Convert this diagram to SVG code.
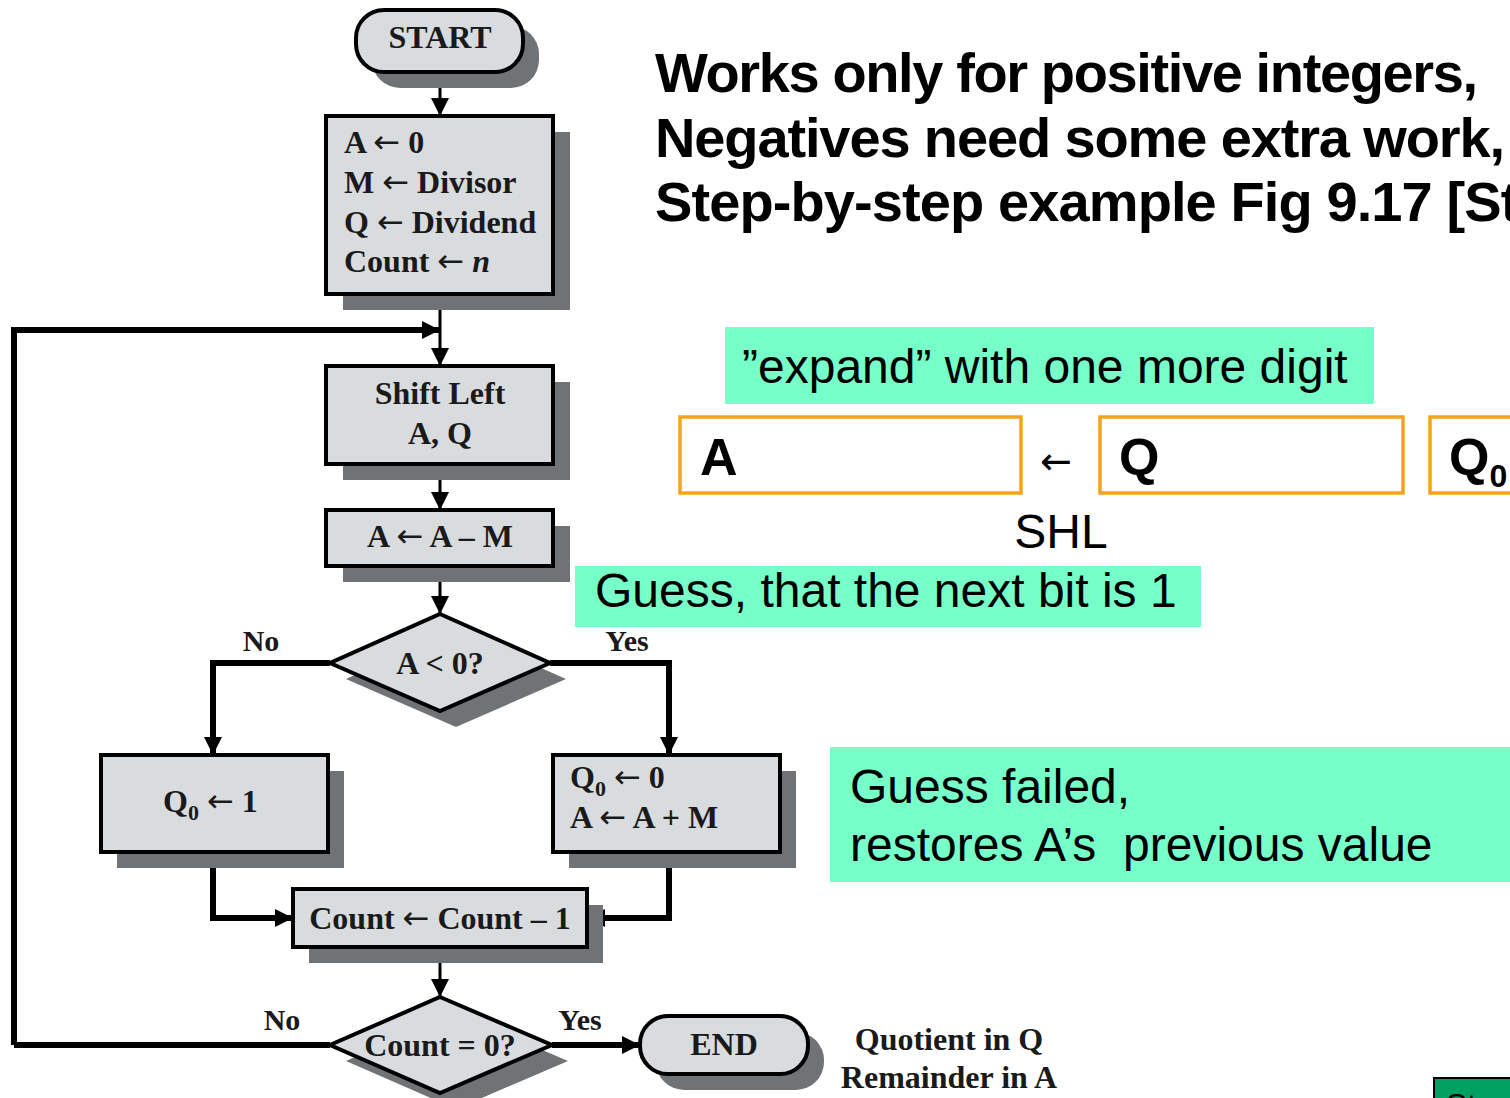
<svg xmlns="http://www.w3.org/2000/svg" width="1510" height="1098" viewBox="0 0 1510 1098">
  <style>
    .box { fill: #d9dcdf; stroke: #000; stroke-width: 4; }
    .shadow { fill: #707376; }
    .fc { font-family: "Liberation Serif", "Times New Roman", serif; font-weight: bold; font-size: 32px; fill: #1a1a1a; }
    .arr { font-family: "DejaVu Sans", sans-serif; font-weight: normal; }
    .lbl { font-family: "Liberation Serif", "Times New Roman", serif; font-weight: bold; font-size: 30px; fill: #1a1a1a; }
    .head { font-family: "Liberation Sans", Arial, sans-serif; font-weight: bold; font-size: 56px; fill: #000; }
    .note { font-family: "Liberation Sans", Arial, sans-serif; font-size: 48px; fill: #000; }
    .hl { fill: #76ffc8; }
    .reg { fill: #fff; stroke: #f7a21b; stroke-width: 3.5; }
    .regt { font-family: "Liberation Sans", Arial, sans-serif; font-weight: bold; font-size: 52px; fill: #000; }
    .thin { fill: none; stroke: #000; stroke-width: 3; }
    .thick { fill: none; stroke: #000; stroke-width: 6; }
  </style>
  <defs>
    <marker id="ah" viewBox="0 0 10 10" refX="10" refY="5" markerWidth="18" markerHeight="18" markerUnits="userSpaceOnUse" orient="auto">
      <path d="M0,0 L10,5 L0,10 z" fill="#000"/>
    </marker>
  </defs>

  <rect width="1510" height="1098" fill="#fff"/>

  <!-- connectors -->
  <g id="connectors">
    <path class="thin" d="M440,72 V116" marker-end="url(#ah)"/>
    <path class="thin" d="M440,294 V366" marker-end="url(#ah)"/>
    <path class="thick" d="M14,1045 V330 H440" marker-end="url(#ah)"/>
    <path class="thin" d="M440,464 V510" marker-end="url(#ah)"/>
    <path class="thin" d="M440,566 V614" marker-end="url(#ah)"/>
    <path class="thick" d="M330,663 H213 V755" marker-end="url(#ah)"/>
    <path class="thick" d="M550,663 H669 V755" marker-end="url(#ah)"/>
    <path class="thick" d="M213,852 V918 H293" marker-end="url(#ah)"/>
    <path class="thick" d="M669,852 V918 H587" marker-end="url(#ah)"/>
    <path class="thin" d="M440,947 V997" marker-end="url(#ah)"/>
    <path class="thick" d="M330,1045 H14"/>
    <path class="thick" d="M552,1045 H640" marker-end="url(#ah)"/>
  </g>

  <!-- flowchart nodes -->
  <g id="start">
    <rect class="shadow" x="372" y="26" width="167" height="62" rx="28"/>
    <rect class="box" x="356" y="10" width="167" height="62" rx="28"/>
    <text class="fc" x="440" y="48" text-anchor="middle">START</text>
  </g>

  <g id="init">
    <rect class="shadow" x="343" y="132" width="227" height="178"/>
    <rect class="box" x="326" y="116" width="227" height="178"/>
    <text class="fc" x="344" y="153">A <tspan class="arr">←</tspan> 0</text>
    <text class="fc" x="344" y="193">M <tspan class="arr">←</tspan> Divisor</text>
    <text class="fc" x="344" y="233">Q <tspan class="arr">←</tspan> Dividend</text>
    <text class="fc" x="344" y="272">Count <tspan class="arr">←</tspan> <tspan font-style="italic">n</tspan></text>
  </g>

  <g id="shift">
    <rect class="shadow" x="343" y="382" width="227" height="98"/>
    <rect class="box" x="326" y="366" width="227" height="98"/>
    <text class="fc" x="440" y="404" text-anchor="middle">Shift Left</text>
    <text class="fc" x="440" y="444" text-anchor="middle">A, Q</text>
  </g>

  <g id="sub">
    <rect class="shadow" x="343" y="526" width="227" height="56"/>
    <rect class="box" x="326" y="510" width="227" height="56"/>
    <text class="fc" x="440" y="547" text-anchor="middle">A <tspan class="arr">←</tspan> A – M</text>
  </g>

  <g id="test-a">
    <polygon class="shadow" points="456,630 566,679 456,727 346,679"/>
    <polygon class="box" points="440,614 550,663 440,711 330,663"/>
    <text class="fc" x="440" y="674" text-anchor="middle">A &lt; 0?</text>
    <text class="lbl" x="261" y="651" text-anchor="middle">No</text>
    <text class="lbl" x="627" y="651" text-anchor="middle">Yes</text>
  </g>

  <g id="set-one">
    <rect class="shadow" x="117" y="771" width="227" height="97"/>
    <rect class="box" x="101" y="755" width="227" height="97"/>
    <text class="fc" x="163" y="812">Q<tspan font-size="22" dy="8">0</tspan><tspan dy="-8"> </tspan><tspan class="arr">←</tspan> 1</text>
  </g>

  <g id="restore">
    <rect class="shadow" x="569" y="771" width="227" height="97"/>
    <rect class="box" x="553" y="755" width="227" height="97"/>
    <text class="fc" x="570" y="788">Q<tspan font-size="22" dy="8">0</tspan><tspan dy="-8"> </tspan><tspan class="arr">←</tspan> 0</text>
    <text class="fc" x="570" y="828">A <tspan class="arr">←</tspan> A + M</text>
  </g>

  <g id="dec">
    <rect class="shadow" x="309" y="905" width="294" height="58"/>
    <rect class="box" x="293" y="889" width="294" height="58"/>
    <text class="fc" x="440" y="929" text-anchor="middle">Count <tspan class="arr">←</tspan> Count – 1</text>
  </g>

  <g id="test-count">
    <polygon class="shadow" points="456,1013 568,1061 456,1109 346,1061"/>
    <polygon class="box" points="440,997 552,1045 440,1093 330,1045"/>
    <text class="fc" x="440" y="1056" text-anchor="middle">Count = 0?</text>
    <text class="lbl" x="282" y="1030" text-anchor="middle">No</text>
    <text class="lbl" x="580" y="1030" text-anchor="middle">Yes</text>
  </g>

  <g id="end">
    <rect class="shadow" x="656" y="1032" width="168" height="58" rx="28"/>
    <rect class="box" x="640" y="1016" width="168" height="58" rx="28"/>
    <text class="fc" x="724" y="1055" text-anchor="middle">END</text>
  </g>

  <g id="result">
    <text class="fc" x="949" y="1050" text-anchor="middle">Quotient in Q</text>
    <text class="fc" x="949" y="1088" text-anchor="middle">Remainder in A</text>
  </g>

  <!-- heading -->
  <g id="heading">
    <text class="head" x="655" y="92" textLength="823" lengthAdjust="spacing">Works only for positive integers,</text>
    <text class="head" x="655" y="157" textLength="850" lengthAdjust="spacing">Negatives need some extra work,</text>
    <text class="head" x="655" y="221" letter-spacing="-0.9">Step-by-step example Fig 9.17 [Stallings]</text>
  </g>

  <!-- register sketch -->
  <g id="expand-note">
    <rect class="hl" x="725" y="327" width="649" height="77"/>
    <text class="note" x="742" y="383">”expand” with one more digit</text>
  </g>

  <g id="registers">
    <rect class="reg" x="680" y="417" width="341" height="76"/>
    <text class="regt" x="700" y="475">A</text>
    <text x="1056" y="474" font-family="'DejaVu Sans', sans-serif" font-size="38" text-anchor="middle">←</text>
    <rect class="reg" x="1100" y="417" width="303" height="76"/>
    <text class="regt" x="1119" y="475">Q</text>
    <rect class="reg" x="1430" y="417" width="100" height="76"/>
    <text class="regt" x="1449" y="475">Q<tspan font-size="32" dy="12">0</tspan></text>
    <text class="note" x="1061" y="548" text-anchor="middle" font-size="47">SHL</text>
  </g>

  <g id="guess-note">
    <rect class="hl" x="575" y="566" width="626" height="61"/>
    <text class="note" x="595" y="607">Guess, that the next bit is 1</text>
  </g>

  <g id="fail-note">
    <rect class="hl" x="830" y="747" width="690" height="135"/>
    <text class="note" x="850" y="803">Guess failed,</text>
    <text class="note" x="850" y="861" xml:space="preserve">restores A’s  previous value</text>
  </g>

  <g id="step-button">
    <rect x="1434" y="1078" width="90" height="40" fill="#00a060" stroke="#000" stroke-width="2"/>
    <text x="1446" y="1116" font-family="'Liberation Sans', Arial, sans-serif" font-size="32" fill="#000">Step</text>
  </g>
</svg>
